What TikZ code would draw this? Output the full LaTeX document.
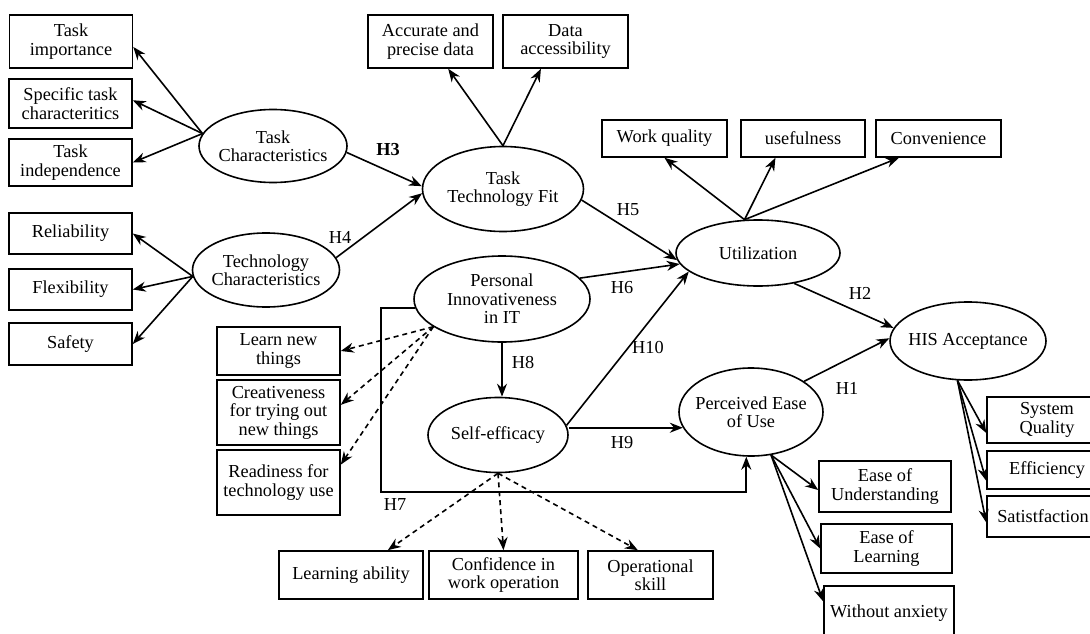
\documentclass[tikz,border=0pt]{standalone}
\usepackage{fontspec}
\setmainfont{Liberation Serif}
\usetikzlibrary{shapes.geometric,arrows.meta}

\begin{document}
\begin{tikzpicture}[
  x=1pt, y=-1pt,
  every node/.style={font=\fontsize{18.3}{18.5}\selectfont, align=center},
  box/.style={draw, line width=1.6pt, inner sep=1pt},
  latent/.style={draw, ellipse, line width=1.6pt, inner sep=-6pt},
  hyp/.style={inner sep=1pt},
  arr/.style={line width=1.6pt, -{Stealth[length=13pt,width=10pt]}},
  darr/.style={arr, dash pattern=on 5pt off 4pt}
]
  \useasboundingbox (0,0) rectangle (1090,634);

  % Latent constructs
  \node[latent, minimum width=148pt, minimum height=73pt] (tc) at (273,146) {Task\\Characteristics};
  \node[latent, minimum width=147pt, minimum height=74pt] (techc) at (266,270) {Technology\\Characteristics};
  \node[latent, minimum width=161pt, minimum height=85pt] (ttf) at (503,189) {Task\\Technology Fit};
  \node[latent, minimum width=164pt, minimum height=66pt] (util) at (758,253) {Utilization};
  \node[latent, minimum width=176pt, minimum height=86pt] (pi) at (502,299) {Personal\\Innovativeness\\in IT};
  \node[latent, minimum width=140pt, minimum height=75pt] (se) at (498,435) {Self-efficacy};
  \node[latent, minimum width=144pt, minimum height=88pt] (peou) at (751,412) {Perceived Ease\\of Use};
  \node[latent, minimum width=156pt, minimum height=78pt] (his) at (968,341) {HIS Acceptance};

  % Indicators
  \node[box, minimum width=123pt, minimum height=53pt] (timp) at (71,41.5) {Task\\importance};
  \node[box, minimum width=123pt, minimum height=49pt] (tspec) at (70.5,103.5) {Specific task\\characteritics};
  \node[box, minimum width=123pt, minimum height=47pt] (tind) at (70.5,162.5) {Task\\independence};
  \node[box, minimum width=123pt, minimum height=41pt] (rel) at (70.5,233.5) {Reliability};
  \node[box, minimum width=123pt, minimum height=41pt] (flex) at (70.5,289.5) {Flexibility};
  \node[box, minimum width=123pt, minimum height=42pt] (safe) at (70.5,344) {Safety};
  \node[box, minimum width=125pt, minimum height=53pt] (acc) at (430.5,41.5) {Accurate and\\precise data};
  \node[box, minimum width=125pt, minimum height=53pt] (dacc) at (565.5,41.5) {Data\\accessibility};
  \node[box, minimum width=125pt, minimum height=37pt] (wq) at (664.5,138.5) {Work quality};
  \node[box, minimum width=124pt, minimum height=37pt] (usef) at (803,138.5) {usefulness};
  \node[box, minimum width=125pt, minimum height=37pt] (conv) at (938.5,138.5) {Convenience};
  \node[box, minimum width=123pt, minimum height=48pt] (learn) at (278.5,351) {Learn new\\things};
  \node[box, minimum width=123pt, minimum height=65pt] (creat) at (278.5,412.5) {Creativeness\\for trying out\\new things};
  \node[box, minimum width=123pt, minimum height=65pt] (ready) at (278.5,482.5) {Readiness for\\technology use};
  \node[box, minimum width=144pt, minimum height=48pt] (lab) at (351,575) {Learning ability};
  \node[box, minimum width=149pt, minimum height=48pt] (conf) at (503.5,575) {Confidence in\\work operation};
  \node[box, minimum width=125pt, minimum height=48pt] (ops) at (650.5,575) {Operational\\skill};
  \node[box, minimum width=132pt, minimum height=51pt] (eou) at (885,486.5) {Ease of\\Understanding};
  \node[box, minimum width=131pt, minimum height=49pt] (eol) at (886.5,548.5) {Ease of\\Learning};
  \node[box, minimum width=130pt, minimum height=54pt] (wa) at (889,613) {Without anxiety};
  \node[box, minimum width=120pt, minimum height=46pt] (sq) at (1047,420) {System\\Quality};
  \node[box, minimum width=120pt, minimum height=38pt] (eff) at (1047,470) {Efficiency};
  \node[box, minimum width=112pt, minimum height=41pt] (sat) at (1043,516.5) {Satistfaction};

  % Hypothesis labels
  \node[hyp] (lh1) at (847,388) {H1};
  \node[hyp] (lh2) at (860,293) {H2};
  \node[hyp] (lh3) at (388,150) {\textbf{H3}};
  \node[hyp] (lh4) at (340,237) {H4};
  \node[hyp] (lh5) at (628,210) {H5};
  \node[hyp] (lh6) at (622,288) {H6};
  \node[hyp] (lh7) at (395,505) {H7};
  \node[hyp] (lh8) at (523,363) {H8};
  \node[hyp] (lh9) at (622,443) {H9};
  \node[hyp] (lh10) at (648,348) {H10};

  % Structural paths
  \draw[arr] (tc.-5) -- (ttf.178);
  \draw[arr] (techc.10) -- (ttf.183);
  \draw[arr] (ttf.-8) -- (util.185);
  \draw[arr] (pi.15) -- (util.188);
  \draw[arr] (se.8) -- (util.195);
  \draw[arr] (pi.south) -- (pi.south |- se.north);
  \draw[arr] (se.east |- peou.193) -- (peou.193);
  \draw[arr] (util.-40) -- (his.170);
  \draw[arr] (peou.30) -- (his.178);
  \coordinate (h7) at (381,492);
  \draw[arr, line width=1.9pt] (pi.186) -| (h7) -| (peou.-96);

  % Measurement paths
  \draw[arr] (tc.170) -- (timp.-5);
  \draw[arr] (tc.170) -- (tspec.3);
  \draw[arr] (tc.170) -- (tind.east);
  \draw[arr] (techc.185) -- (rel.east);
  \draw[arr] (techc.185) -- (flex.east);
  \draw[arr] (techc.185) -- (safe.east);
  \draw[arr] (ttf.north) -- (acc.-57);
  \draw[arr] (ttf.north) -- (dacc.228);
  \draw[arr] (util.112) -- (wq.south);
  \draw[arr] (util.112) -- (usef.215);
  \draw[arr] (util.112) -- (conv.206);
  \draw[darr] (pi.202) -- (learn.east);
  \draw[darr] (pi.202) -- (creat.7);
  \draw[darr] (pi.202) -- (ready.16);
  \draw[darr] (se.south) -- (lab.34);
  \draw[darr] (se.south) -- (conf.north);
  \draw[darr] (se.south) -- (ops.117);
  \draw[arr] (peou.-65) -- (eou.183);
  \draw[arr] (peou.-65) -- (eol.west);
  \draw[arr] (peou.-65) -- (wa.170);
  \draw[arr] (his.-105) -- (sq.192);
  \draw[arr] (his.-105) -- (eff.190);
  \draw[arr] (his.-105) -- (sat.186);
\end{tikzpicture}
\end{document}
